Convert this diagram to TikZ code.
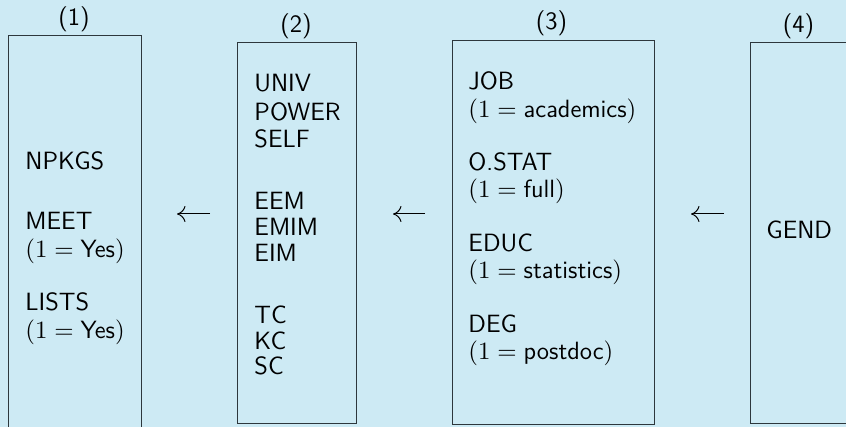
\documentclass[tikz,border=0pt]{standalone}
\usetikzlibrary{arrows.meta}
\definecolor{bgblue}{RGB}{205,234,244}
\definecolor{frame}{RGB}{45,55,60}
\tikzset{
  panel/.style={draw=frame, line width=1pt, rectangle, inner sep=0pt, anchor=north west},
  entry/.style={anchor=base west, inner sep=0pt, font=\sffamily\fontsize{11}{13.6}\selectfont,
    text=black, scale=2.27, transform shape},
  tag/.style={anchor=base, inner sep=0pt, font=\sffamily\fontsize{11}{13.6}\selectfont,
    text=black, scale=2.27, transform shape},
  flow/.style={line width=1pt, -{Computer Modern Rightarrow[length=8.5pt,width=16pt]}}
}
\begin{document}
\begin{tikzpicture}[x=1pt, y=-1pt]
  \fill[bgblue] (0,0) rectangle (846,427);
  \clip (0,0) rectangle (846,427);

  % the four panels
  \node[panel, minimum width=133pt, minimum height=420pt] (b1) at (8,35) {};
  \node[panel, minimum width=119pt, minimum height=381pt] (b2) at (237,42) {};
  \node[panel, minimum width=202pt, minimum height=384pt] (b3) at (452,40) {};
  \node[panel, minimum width=160pt, minimum height=381pt] (b4) at (750,42) {};

  % panel numbers
  \node[tag] (n1) at (74,25.8) {(1)};
  \node[tag] (n2) at (296,32.5) {(2)};
  \node[tag] (n3) at (551.5,30) {(3)};
  \node[tag] (n4) at (798.5,32.5) {(4)};

  % panel 1
  \node[entry] (p1a) at (25,170) {NPKGS};
  \node[entry] (p1b) at (25,230) {MEET};
  \node[entry] (p1c) at (25,257.5) {$(1 = \mbox{Yes})$};
  \node[entry] (p1d) at (25,311) {LISTS};
  \node[entry] (p1e) at (25,338.5) {$(1 = \mbox{Yes})$};

  % panel 2
  \node[entry] (p2a) at (254,91.7) {UNIV};
  \node[entry] (p2b) at (254,120.5) {POWER};
  \node[entry] (p2c) at (254,147.5) {SELF};
  \node[entry] (p2d) at (254,210) {EEM};
  \node[entry] (p2e) at (254,236) {EMIM};
  \node[entry] (p2f) at (254,261.5) {EIM};
  \node[entry] (p2g) at (254,324) {TC};
  \node[entry] (p2h) at (254,349.5) {KC};
  \node[entry] (p2i) at (254,374.5) {SC};

  % panel 3
  \node[entry] (p3a) at (468,90) {JOB};
  \node[entry] (p3b) at (468,117.5) {$(1 = \mbox{academics})$};
  \node[entry] (p3c) at (468,170.5) {O.STAT};
  \node[entry] (p3d) at (468,198) {$(1 = \mbox{full})$};
  \node[entry] (p3e) at (468,252) {EDUC};
  \node[entry] (p3f) at (468,279) {$(1 = \mbox{statistics})$};
  \node[entry] (p3g) at (468,333) {DEG};
  \node[entry] (p3h) at (468,359.5) {$(1 = \mbox{postdoc})$};

  % panel 4
  \node[entry] (p4a) at (766,238.5) {GEND};

  % arrows between panels
  \coordinate (row) at (0,214);
  \draw[flow, shorten <=27pt, shorten >=35pt] (b2.west |- row) -- (b1.east |- row);
  \draw[flow, shorten <=27pt, shorten >=36pt] (b3.west |- row) -- (b2.east |- row);
  \draw[flow, shorten <=26pt, shorten >=36pt] (b4.west |- row) -- (b3.east |- row);
\end{tikzpicture}
\end{document}
